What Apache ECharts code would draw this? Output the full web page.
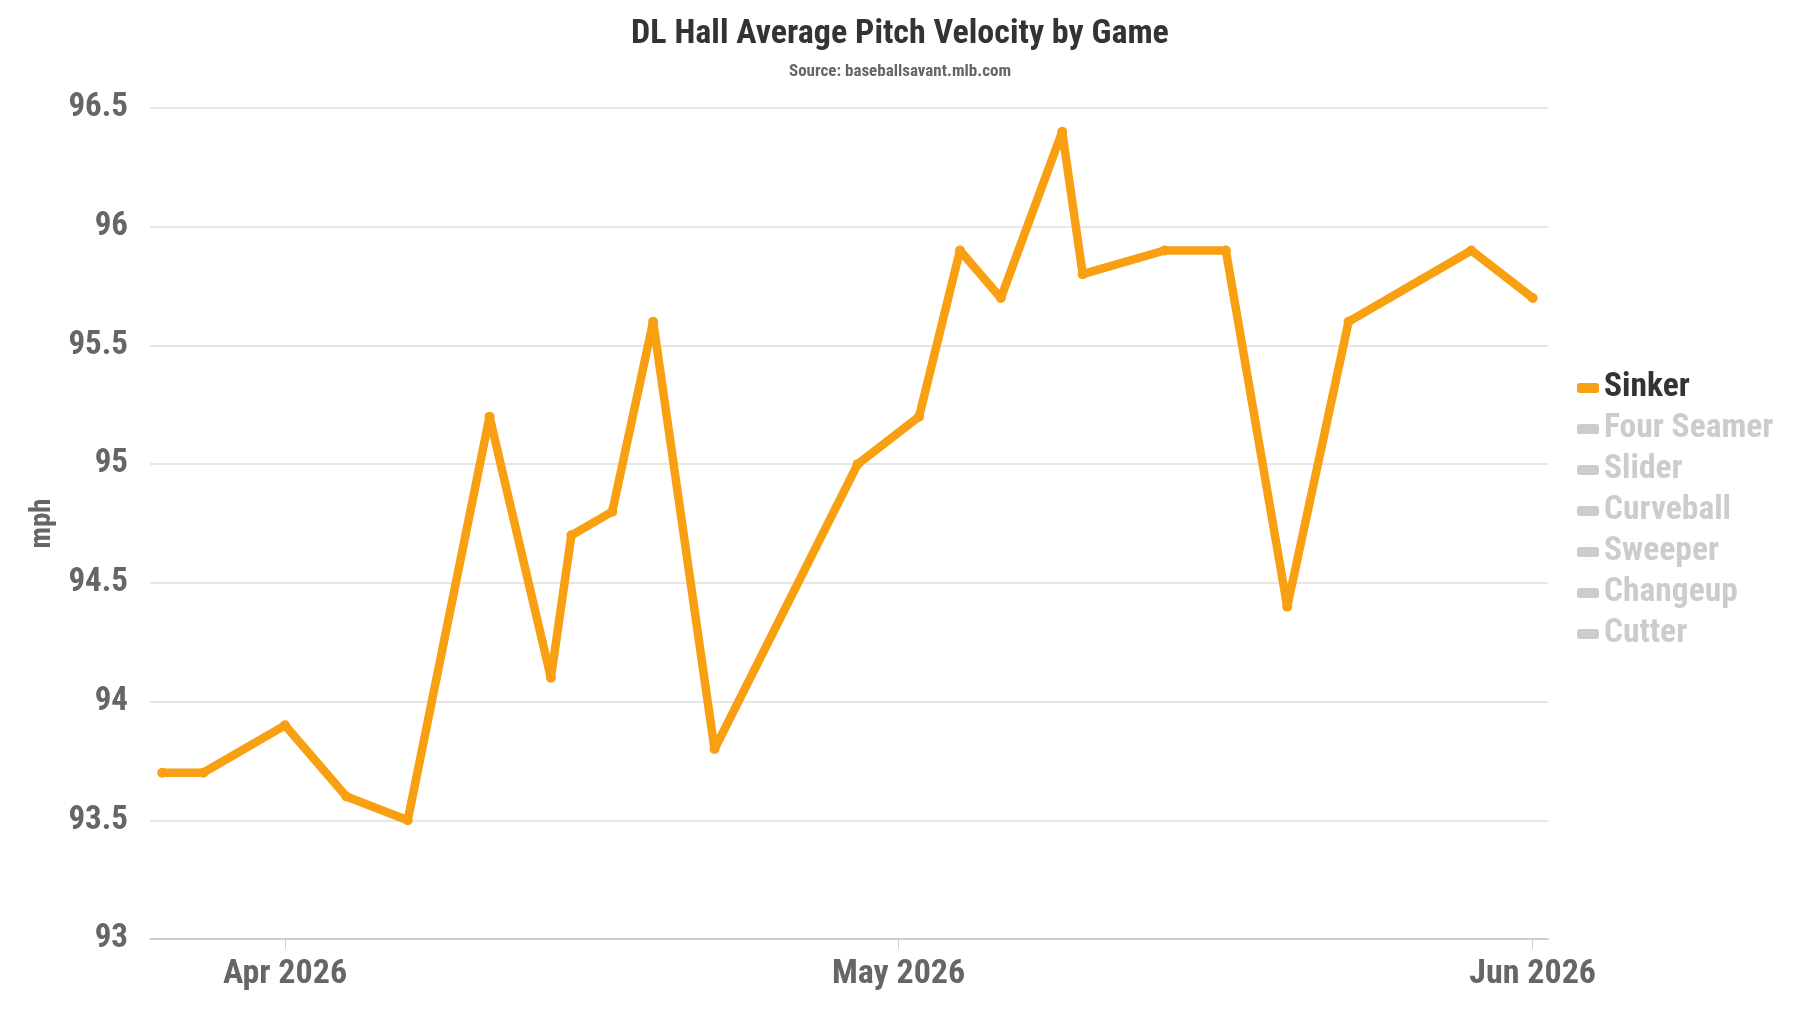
<!DOCTYPE html>
<html>
<head>
<meta charset="utf-8">
<title>DL Hall Average Pitch Velocity by Game</title>
<script src="https://cdn.jsdelivr.net/npm/echarts@6/dist/echarts.min.js"></script>
<style>
  html, body { margin: 0; padding: 0; background: #fff; }
  #chart { width: 1800px; height: 1013px; }
</style>
</head>
<body>
<div id="chart"></div>
<script>
// game dates and sinker average velocity (mph)
const gameDates = [
    '2026-03-26', '2026-03-28', '2026-04-01', '2026-04-04', '2026-04-07',
    '2026-04-11', '2026-04-14', '2026-04-15', '2026-04-17', '2026-04-19',
    '2026-04-22', '2026-04-29', '2026-05-02', '2026-05-04', '2026-05-06',
    '2026-05-09', '2026-05-10', '2026-05-14', '2026-05-17', '2026-05-20',
    '2026-05-23', '2026-05-29', '2026-06-01'
]
const sinkerVelo = [
    93.7, 93.7, 93.9, 93.6, 93.5,
    95.2, 94.1, 94.7, 94.8, 95.6,
    93.8, 95.0, 95.2, 95.9, 95.7,
    96.4, 95.8, 95.9, 95.9, 94.4,
    95.6, 95.9, 95.7
]
// other pitch types are in the legend but switched off
const pitchTypes = ['Sinker', 'Four Seamer', 'Slider', 'Curveball', 'Sweeper', 'Changeup', 'Cutter']
const monthTicks = ['2026-04-01', '2026-05-01', '2026-06-01']
const monthNames = ['Jan', 'Feb', 'Mar', 'Apr', 'May', 'Jun', 'Jul', 'Aug', 'Sep', 'Oct', 'Nov', 'Dec']

const FONT = '"Roboto Condensed", "Liberation Sans Narrow", "DejaVu Sans Condensed", sans-serif'
const ORANGE = '#f8a011'

const toTime = d => new Date(d + 'T00:00:00').getTime()
const tickTimes = monthTicks.map(toTime)
const day = 24 * 3600 * 1000

let selected = {}
pitchTypes.forEach(p => { selected[p] = p === 'Sinker' })

const series = pitchTypes.map(p => ({
    name: p,
    type: 'line',
    data: p === 'Sinker' ? gameDates.map((d, i) => [toTime(d), sinkerVelo[i]]) : [],
    color: p === 'Sinker' ? ORANGE : '#ccc',
    symbol: 'circle',
    symbolSize: 10,
    lineStyle: { width: 8.5, join: 'round', cap: 'round' },
    itemStyle: { color: p === 'Sinker' ? ORANGE : '#ccc' },
    emphasis: { disabled: true }
}))

const chart = echarts.init(document.getElementById('chart'), null, { renderer: 'canvas' })
chart.setOption({
    animation: false,
    backgroundColor: '#fff',
    title: {
        text: 'DL Hall Average Pitch Velocity by Game',
        subtext: 'Source: baseballsavant.mlb.com',
        left: 'center',
        top: 12,
        itemGap: 12,
        textStyle: { fontFamily: FONT, fontSize: 34, fontWeight: 'bold', color: '#333' },
        subtextStyle: { fontFamily: FONT, fontSize: 17, fontWeight: 'bold', color: '#666' }
    },
    legend: {
        orient: 'vertical',
        left: 1572,
        top: 366,
        itemGap: 7,
        itemWidth: 22,
        itemHeight: 10,
        selected: selected,
        inactiveColor: '#ccc',
        icon: 'roundRect',
        data: pitchTypes,
        textStyle: { fontFamily: FONT, fontSize: 33.5, fontWeight: 'bold', color: '#333' }
    },
    grid: { left: 150, right: 252, top: 108, bottom: 74, containLabel: false },
    xAxis: {
        type: 'value',
        min: tickTimes[0] - 6.6 * day,
        max: tickTimes[2] + 0.75 * day,
        axisLine: { lineStyle: { color: '#ccd0d6', width: 2 } },
        axisTick: { show: true, length: 10, lineStyle: { color: '#ccd0d6' }, customValues: tickTimes },
        splitLine: { show: false },
        axisLabel: {
            customValues: tickTimes,
            margin: 18,
            fontFamily: FONT,
            fontSize: 34,
            fontWeight: 'bold',
            color: '#666',
            formatter: v => {
                const d = new Date(v)
                return monthNames[d.getMonth()] + ' ' + d.getFullYear()
            }
        }
    },
    yAxis: {
        type: 'value',
        min: 93,
        max: 96.5,
        interval: 0.5,
        name: 'mph',
        nameLocation: 'middle',
        nameGap: 92,
        nameTextStyle: { fontFamily: FONT, fontSize: 29, fontWeight: 'bold', color: '#666' },
        axisLine: { show: false },
        axisTick: { show: false },
        splitLine: { lineStyle: { color: '#e6e6e6', width: 2 } },
        axisLabel: {
            margin: 22,
            fontFamily: FONT,
            fontSize: 33,
            fontWeight: 'bold',
            color: '#666'
        }
    },
    tooltip: { show: false },
    series: series
})
</script>
</body>
</html>
